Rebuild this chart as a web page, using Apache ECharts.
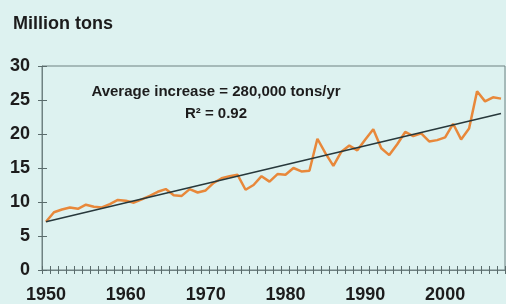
<!DOCTYPE html>
<html>
<head>
<meta charset="utf-8">
<script src="https://cdn.jsdelivr.net/npm/echarts@6/dist/echarts.min.js"></script>
<style>
  html, body { margin: 0; padding: 0; background: #ddf2f0; }
  #chart { width: 506px; height: 304px; }
</style>
</head>
<body>
<div id="chart"></div>
<script>
// years on the x axis
var years = [
  1950, 1951, 1952, 1953, 1954, 1955, 1956, 1957, 1958, 1959,
  1960, 1961, 1962, 1963, 1964, 1965, 1966, 1967, 1968, 1969,
  1970, 1971, 1972, 1973, 1974, 1975, 1976, 1977, 1978, 1979,
  1980, 1981, 1982, 1983, 1984, 1985, 1986, 1987, 1988, 1989,
  1990, 1991, 1992, 1993, 1994, 1995, 1996, 1997, 1998, 1999,
  2000, 2001, 2002, 2003, 2004, 2005, 2006, 2007
];

// million tons
var tons = [
  7.1, 8.5, 8.9, 9.2, 9.0, 9.6, 9.3, 9.2, 9.7, 10.3,
  10.2, 9.9, 10.4, 10.9, 11.5, 11.9, 11.0, 10.9, 11.9, 11.4,
  11.7, 12.8, 13.5, 13.8, 14.0, 11.8, 12.5, 13.8, 13.0, 14.1,
  14.0, 15.0, 14.5, 14.6, 19.3, 17.2, 15.3, 17.4, 18.3, 17.6,
  19.2, 20.7, 17.9, 16.9, 18.5, 20.3, 19.7, 20.1, 18.9, 19.1,
  19.5, 21.5, 19.2, 20.8, 26.3, 24.8, 25.4, 25.2
];

// trend line end points
var trendStart = ['1950', 7.1];
var trendEnd = ['2007', 23.0];

var yTicks = { min: 0, max: 30, interval: 5 };

var axisGray = '#6f8282';
var tickGray = '#5a6c6c';
var textDark = '#1c1c1c';
var font = '"Liberation Sans", Arial, sans-serif';

var chart = echarts.init(document.getElementById('chart'));

chart.setOption({
    backgroundColor: '#ddf2f0',
    animation: false,
    textStyle: { fontFamily: font },
    title: {
        text: 'Million tons',
        left: 8,
        top: 10,
        textStyle: { fontSize: 18, fontWeight: 'bold', color: textDark, fontFamily: font }
    },
    graphic: [
        {
            type: 'text', x: 216, y: 92,
            style: {
                text: 'Average increase = 280,000 tons/yr',
                fill: textDark, font: 'bold 15px ' + font,
                textAlign: 'center', textVerticalAlign: 'middle'
            }
        },
        {
            type: 'text', x: 216, y: 114,
            style: {
                text: 'R² = 0.92',
                fill: textDark, font: 'bold 15px ' + font,
                textAlign: 'center', textVerticalAlign: 'middle'
            }
        }
    ],
    grid: {
        left: 42, right: 1, top: 66, bottom: 34,
        show: true, borderColor: axisGray, borderWidth: 1,
        backgroundColor: 'transparent'
    },
    xAxis: [
        {
            type: 'category',
            data: years,
            boundaryGap: true,
            axisLine: { lineStyle: { color: axisGray, width: 1 } },
            axisTick: { show: true, interval: 0, length: 4, lineStyle: { color: tickGray, width: 1 } },
            axisLabel: {
                interval: function (i, v) { return Number(v) % 10 === 0; },
                margin: 16,
                fontSize: 18, fontWeight: 'bold', color: textDark, fontFamily: font
            }
        },
        {
            type: 'category',
            data: years,
            position: 'bottom',
            boundaryGap: true,
            axisLine: { show: false },
            axisTick: { show: true, interval: 0, inside: true, length: 4, lineStyle: { color: tickGray, width: 1 } },
            axisLabel: { show: false }
        }
    ],
    yAxis: [
        {
            type: 'value',
            min: yTicks.min, max: yTicks.max, interval: yTicks.interval,
            axisLine: { show: true, lineStyle: { color: axisGray, width: 1 } },
            axisTick: { show: true, length: 4, lineStyle: { color: tickGray, width: 1 } },
            splitLine: { show: false },
            axisLabel: {
                margin: 12,
                fontSize: 18, fontWeight: 'bold', color: textDark, fontFamily: font
            }
        },
        {
            type: 'value',
            position: 'left',
            min: yTicks.min, max: yTicks.max, interval: yTicks.interval,
            axisLine: { show: false },
            axisTick: { show: true, inside: true, length: 5, lineStyle: { color: tickGray, width: 1 } },
            splitLine: { show: false },
            axisLabel: { show: false }
        }
    ],
    series: [
        {
            type: 'line',
            data: tons,
            showSymbol: false,
            lineStyle: { color: '#e8883a', width: 2.5 },
            z: 2,
            markLine: {
                silent: true,
                symbol: 'none',
                label: { show: false },
                lineStyle: { color: '#27383b', width: 1.5, type: 'solid' },
                data: [[{ coord: trendStart }, { coord: trendEnd }]]
            }
        }
    ]
});
</script>
</body>
</html>
